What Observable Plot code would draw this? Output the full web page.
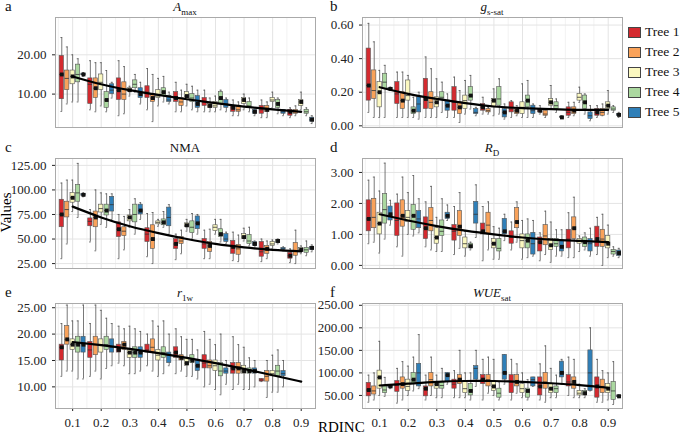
<!DOCTYPE html>
<html><head><meta charset="utf-8">
<script src="https://cdn.jsdelivr.net/npm/d3@7"></script>
<script src="https://cdn.jsdelivr.net/npm/@observablehq/plot@0.6"></script>
<style>
body{margin:0;background:#fff;font-family:"Liberation Serif",serif;}
#wrap{position:relative;width:680px;height:438px;overflow:hidden;}
.abs{position:absolute;}
.lab{font-size:15px;color:#111;}
.ttl{font-size:13px;color:#111;text-align:center;width:260px;}
.ttl sub{font-size:9px;font-style:normal;}
.leg{font-size:13.5px;color:#111;display:flex;align-items:center;}
.leg span.k{display:inline-block;width:11px;height:9px;border:1px solid #444;margin-right:4px;position:relative;}
</style></head><body><div id="wrap"></div>
<script>
const bins = [0.1,0.2,0.3,0.4,0.5,0.6,0.7,0.8,0.9];
const trees = ["Tree 1","Tree 2","Tree 3","Tree 4","Tree 5"];
const treeColors = ["#d42a2f","#f9a25a","#fbf8c0","#abd8a0","#2f7fb8"];

// each entry: [min, q1, median, q3, max] per bin
const amax = [
 [[5.6,8.7,15,19.7,24.4],[6,7.5,12.5,14,18.5],[4.5,8.5,11,14,18.5],[6,9,10.5,12,16.5],[5.5,8,9,10.5,13],[5.5,7,8,9,11],[4.5,5.5,6.5,7,8.5],[4,5,6,7,8.5],[4,4.5,5.5,6,6.5]],
 [[7.5,11,14,16,22],[5.5,9,11.5,14,18],[5,8.5,10,13,17],[3,8,9,10,15],[5.5,7,8,9,11],[5.5,6.5,7,7.5,9],[4.5,5.5,6,7,8],[4,5.5,6,7,8],[4.5,5,5.5,6,7]],
 [[8,12.5,14.5,16,20],[7,11,13,15,18],[9.5,10.5,11,11.5,12],[7,9,9.5,11,14],[7,8.5,9.5,10.5,12.5],[5.5,6.5,7,8,9.5],[6,7.5,8.5,9,10],[6.5,8,8.5,9,10.5],[6,7,8,8.5,10.5]],
 [[8,13,15,17.5,19],[5.5,6.5,8.5,10.5,16],[10.5,11.5,12.5,13.5,15],[8,9.5,10.5,11.5,14.5],[6,8,9,10,12],[6,7.5,9,10.5,11],[5.5,6.5,7,8,9],[5,6.5,7.5,8.5,9],[4.5,5,5.5,6,6.5]],
 [[14.5,14.8,15,15.2,15.5],[9,10,11,12.5,13],[7.5,9,10,11.5,13],[7.5,8,8.5,9.5,10.5],[5.5,6.5,7.5,9.5,11],[5.5,6.5,7.5,8.5,9],[4.5,5,5.5,6,6],[4.5,5,5.5,6,6],[2.5,3,3.5,4,4.5]]
];
const gssat = [
 [[0.08,0.15,0.24,0.46,0.61],[0.05,0.13,0.19,0.26,0.32],[0.05,0.1,0.16,0.28,0.41],[0.05,0.09,0.14,0.23,0.29],[0.07,0.09,0.11,0.13,0.17],[0.05,0.08,0.1,0.14,0.15],[0.07,0.08,0.09,0.1,0.12],[0.05,0.06,0.08,0.11,0.14],[0.05,0.06,0.08,0.1,0.12]],
 [[0.05,0.16,0.21,0.33,0.5],[0.05,0.1,0.15,0.2,0.32],[0.05,0.1,0.14,0.2,0.34],[0.02,0.07,0.11,0.14,0.21],[0.07,0.08,0.09,0.1,0.11],[0.06,0.07,0.09,0.1,0.12],[0.05,0.06,0.07,0.09,0.1],[0.06,0.07,0.09,0.11,0.14],[0.06,0.06,0.08,0.1,0.13]],
 [[0.05,0.11,0.2,0.26,0.33],[0.05,0.15,0.18,0.27,0.3],[0.05,0.11,0.14,0.17,0.28],[0.07,0.1,0.15,0.18,0.27],[0.06,0.11,0.15,0.16,0.22],[0.05,0.07,0.11,0.14,0.25],[0.1,0.12,0.14,0.16,0.24],[0.14,0.15,0.17,0.19,0.23],[0.07,0.1,0.12,0.14,0.21]],
 [[0.05,0.22,0.26,0.31,0.36],[0.05,0.07,0.09,0.11,0.17],[0.08,0.16,0.17,0.2,0.26],[0.1,0.15,0.18,0.23,0.3],[0.07,0.12,0.16,0.23,0.28],[0.05,0.11,0.15,0.18,0.27],[0.08,0.1,0.12,0.14,0.16],[0.07,0.1,0.14,0.18,0.19],[0.08,0.09,0.1,0.11,0.12]],
 [[0.21,0.215,0.22,0.225,0.23],[0.04,0.08,0.13,0.17,0.2],[0.05,0.09,0.12,0.15,0.19],[0.06,0.07,0.08,0.1,0.11],[0.04,0.05,0.08,0.1,0.13],[0.05,0.07,0.09,0.12,0.13],[0.05,0.05,0.05,0.055,0.06],[0.03,0.04,0.06,0.08,0.12],[0.05,0.06,0.065,0.07,0.08]]
];
const nma = [
 [[30,62,75,90,107],[47,63,68,71,80],[30,52,60,67,75],[32,47,55,61,76],[29,40,45,50,55],[30,40,45,50,59],[28,35,42,48,57],[27,32,37,47,50],[26,30,33,36,40]],
 [[45,72,80,88,110],[38,62,72,78,100],[39,53,58,62,73],[25,40,50,64,77],[35,45,48,52,59],[30,37,43,47,60],[27,34,40,44,54],[30,35,40,43,48],[25,33,38,46,59]],
 [[78,87,92,97,110],[65,77,81,85,97],[62,68,72,74,80],[63,65,67,68,70],[58,62,64,66,70],[55,58,62,64,70],[48,50,52,55,61],[40,43,45,47,49],[35,37,39,41,43]],
 [[72,88,97,105,127],[62,74,79,85,96],[55,67,75,85,91],[62,64,67,70,78],[50,56,62,68,76],[47,52,55,60,70],[43,45,48,54,62],[45,46,48,49,50],[33,36,39,41,48]],
 [[93,94,95,96,97],[70,78,85,93,96],[70,75,79,85,87],[55,63,72,82,85],[55,60,66,73,75],[45,47,50,55,57],[41,43,45,47,48],[38,39,40,41,42],[37,39,41,42,44]]
];
const rd = [
 [[0.7,1.1,1.5,2.1,2.75],[0.6,0.95,1.45,2.0,2.3],[0.6,0.85,1.2,1.55,2.05],[0.35,0.8,1.1,1.3,1.9],[0.15,1.0,1.1,1.35,1.9],[0.5,0.7,0.9,1.1,1.4],[0.15,0.45,0.75,0.9,1.05],[0.25,0.55,0.85,1.15,1.7],[0.35,0.6,0.85,1.25,1.55]],
 [[0.75,1.2,1.55,2.15,2.85],[0.3,1.25,1.6,2.1,2.85],[0.5,1.1,1.45,1.85,2.55],[0.55,0.95,1.25,1.75,2.35],[0.5,1.0,1.3,1.7,2.05],[0.75,1.2,1.4,1.85,2.05],[0.35,0.65,0.95,1.3,1.75],[0.25,0.85,1.2,1.55,2.2],[0.0,0.6,0.85,1.15,1.65]],
 [[0.4,1.0,1.35,1.7,2.4],[1.0,1.4,1.55,1.75,2.35],[0.45,0.7,0.9,1.2,1.55],[0.3,0.55,0.7,0.9,1.1],[0.2,0.55,0.7,0.85,1.25],[0.2,0.55,0.8,1.0,1.45],[0.1,0.5,0.65,0.85,1.4],[0.45,0.7,0.8,0.85,0.95],[0.25,0.55,0.7,0.95,1.3]],
 [[0.85,1.35,1.8,2.3,3.3],[0.95,1.15,1.6,1.95,2.9],[0.45,0.95,1.1,1.45,2.15],[0.5,0.55,0.62,0.7,0.75],[0.2,0.45,0.55,0.85,1.2],[0.25,0.55,0.8,1.0,1.5],[0.3,0.6,0.7,0.85,1.15],[0.5,0.6,0.75,0.9,1.05],[0.3,0.35,0.45,0.5,0.6]],
 [[1.3,1.45,1.65,1.9,2.1],[1.05,1.2,1.5,1.75,2.15],[1.45,1.5,1.6,1.7,1.95],[0.9,1.35,1.65,2.05,2.6],[0.8,1.0,1.1,1.5,1.65],[0.3,0.35,0.7,1.05,1.45],[0.3,0.45,0.6,0.8,1.15],[0.3,0.45,0.7,0.85,1.2],[0.25,0.3,0.4,0.48,0.55]]
];
const r1w = [
 [[12,15,17.5,18,22],[12,15.5,17,18.5,22],[14.5,16.5,17,18,21.5],[14,16.5,17,18,20],[12.5,15.5,16.5,17.5,21],[10,13.5,14.5,16,20.5],[9.5,12.5,13.5,14.5,19.5],[11,11,11.3,11.5,11.5],null],
 [[13,18,19,21.5,25.5],[13,16,18,19.5,25.5],[14,17,18,18.5,21],[13,16.5,17.5,19,22.5],[13,15,15.5,16,19.5],[10.5,13.5,14,15,19],[10.5,12.5,13.5,14.5,18],[8,11,12,13,15],null],
 [[13,17,18,19,22.5],[11.5,16.5,18,19,24.5],[12.5,15.5,16.5,17,21.5],[12,15,16,17,21.5],[12,14,14.5,15.5,19],[9.5,13,14,15,18],[9.5,12.5,13,14,17.5],[9,12,12.5,13,16],null],
 [[11.5,16.5,18,19.5,22.5],[13.5,17,18,19.5,23],[12.5,15.5,16.5,17.5,21],[12.5,15.5,16.5,17.5,22.5],[12,14.5,15,16,19],[8.5,12,13,14.5,20],[9.5,12.5,13,13.5,15.5],[9,12,13,14,17],null],
 [[11.5,16.5,18,19.5,25.5],[14,16.5,17.5,19,22],[13,15.5,16.5,17.5,20.5],[14,14.5,16,16.5,20],[11.5,13,14,15,17],[10.5,12.5,13,13.5,15],[10,12.5,13,13.5,15],[10,12,12.5,13,15],null]
];
const wue = [
 [[35,48,62,78,95],[33,58,72,82,110],[40,48,65,70,95],[45,65,75,85,105],[40,75,85,95,130],[40,55,80,95,130],[40,50,70,90,120],[50,70,80,95,135],[35,45,70,90,130]],
 [[40,52,60,70,100],[40,65,75,90,125],[50,70,85,100,135],[45,75,85,95,150],[55,70,85,95,135],[55,70,80,95,120],[35,65,80,100,160],[45,65,80,90,130],[35,55,70,85,105]],
 [[50,65,90,105,170],[50,60,70,85,115],[45,65,75,80,95],[45,55,65,80,100],[50,60,70,80,130],[45,55,65,75,100],[45,55,65,75,110],[45,50,55,60,75],[40,55,65,75,100]],
 [[48,55,62,70,90],[60,75,85,100,135],[45,65,72,80,110],[40,50,60,75,100],[40,45,55,65,80],[40,45,60,65,85],[45,55,65,70,95],[45,50,55,60,65],[30,40,60,80,125]],
 [[65,67,70,72,73],[65,70,100,120,185],[75,80,95,100,100],[70,85,110,115,150],[75,85,100,140,140],[70,70,85,90,90],[75,90,100,125,130],[60,60,100,150,200],[45,47,48,50,52]]
];
// fitted trend per bin
const fitA = [14.5,12.5,11,9.8,8.7,7.7,6.8,6.1,5.5];
const fitG = [0.23,0.19,0.16,0.135,0.115,0.105,0.1,0.095,0.095];
const fitN = [83,72,63,56,50,45,41.5,39,37.5];
const fitR = [1.65,1.45,1.27,1.12,1.0,0.9,0.83,0.79,0.75];
const fitE = [18.5,17.9,17.2,16.4,15.5,14.5,13.4,12.2,11.0];
const fitW = [72,76,80,82,82,80,77,73,67];

const panels = [
 {tag:"a", title:'<i>A</i><sub>max</sub>', data:amax, fit:fitA, dom:[1.5,29.5], ticks:[10,20], col:0,row:0},
 {tag:"b", title:'<i>g</i><sub>s-sat</sub>', data:gssat, fit:fitG, dom:[-0.01,0.645], ticks:[0,0.2,0.4,0.6], col:1,row:0},
 {tag:"c", title:'NMA', data:nma, fit:fitN, dom:[20,132], ticks:[25,50,75,100,125], col:0,row:1},
 {tag:"d", title:'<i>R</i><sub>D</sub>', data:rd, fit:fitR, dom:[-0.1,3.45], ticks:[0,1,2,3], col:1,row:1},
 {tag:"e", title:'<i>r</i><sub>1w</sub>', data:r1w, fit:fitE, dom:[5.9,25.8], ticks:[10,15,20,25], col:0,row:2},
 {tag:"f", title:'<i>WUE</i><sub>sat</sub>', data:wue, fit:fitW, dom:[21,254], ticks:[50,100,150,200,250], col:1,row:2}
];
const colX = [55, 362];
const rows = [[17,127],[158,268],[303,408]];
const wrap = document.getElementById("wrap");
const W = 260, ML = 52, MT = 7;

function add(html, css, cls){const d=document.createElement("div");d.className="abs "+(cls||"");d.innerHTML=html;Object.assign(d.style,css);wrap.appendChild(d);return d;}

panels.forEach(p => {
  const recs = [];
  p.data.forEach((arr, t) => arr.forEach((s, b) => {
    if (!s) return;
    const xc = bins[b] + (t - 2) * 0.019;
    recs.push({tree: trees[t], x1: xc - 0.0075, x2: xc + 0.0075, xc, w1: xc - 0.003, w2: xc + 0.003, lo:s[0], q1:s[1], med:s[2], q3:s[3], hi:s[4]});
  }));
  const fit = bins.map((b,i)=>({x:b, y:p.fit[i]}));
  const [top,bot] = rows[p.row];
  const bottom = p.row===2;
  const mb = bottom ? 24 : 7;
  const plot = Plot.plot({
    width: ML + W + 6, height: (bot-top) + MT + mb,
    marginLeft: ML, marginRight: 6, marginTop: MT, marginBottom: mb,
    style:{fontFamily:"Liberation Serif, serif", fontSize:"13px", color:"#222", background:"transparent"},
    x:{domain:[0.04,0.95], ticks: bottom ? bins : [], tickFormat: d=>d.toFixed(1), label:null, tickSize:3},
    y:{domain:p.dom, ticks:p.ticks, tickFormat: d=>d.toFixed(2), label:null, tickSize:3},
    color:{domain:trees, range:treeColors},
    marks:[
      Plot.gridX([0.05,0.15,0.25,0.35,0.45,0.55,0.65,0.75,0.85], {stroke:"#f2f2f2", strokeOpacity:1}),
      Plot.gridX(bins, {stroke:"#e4e4e4", strokeOpacity:1}),
      Plot.gridY(p.ticks, {stroke:"#e4e4e4", strokeOpacity:1}),
      Plot.ruleX(recs, {x:"xc", y1:"lo", y2:"hi", stroke:"#555", strokeWidth:0.8}),
      Plot.ruleY(recs, {x1:"w1", x2:"w2", y:"lo", stroke:"#555", strokeWidth:0.8}),
      Plot.ruleY(recs, {x1:"w1", x2:"w2", y:"hi", stroke:"#555", strokeWidth:0.8}),
      Plot.rectY(recs, {x1:"x1", x2:"x2", y1:"q1", y2:"q3", fill:"tree", stroke:"#555", strokeWidth:0.6}),
      Plot.ruleY(recs, {x1:"x1", x2:"x2", y:"med", stroke:"#333", strokeWidth:0.8}),
      Plot.dot(recs.filter((d,i)=>i%2===0), {x:"xc", y:"med", r:2.2, fill:"#111", symbol:"square"}),
      Plot.line(fit, {x:"x", y:"y", stroke:"#000", strokeWidth:2.2, curve:"natural"}),
      Plot.frame({stroke:"#aaa"})
    ]
  });
  plot.style.position="absolute";
  plot.style.left=(colX[p.col]-ML)+"px";
  plot.style.top=(top-MT)+"px";
  wrap.appendChild(plot);
  add(p.tag, {left:(p.col?330:5)+"px", top:(top-19)+"px"}, "lab");
  add(p.title, {left:colX[p.col]+"px", top:(top-18)+"px"}, "ttl");
});
add("Values", {left:"-14px", top:"204px", transform:"rotate(-90deg)", fontSize:"15px"}, "");
add("RDINC", {left:"318px", top:"419px", fontSize:"15px"}, "");
trees.forEach((t,i)=>{
  add('<span class="k" style="background:'+treeColors[i]+'"></span>'+t, {left:"628px", top:(24+i*20)+"px"}, "leg");
});
</script></body></html>
